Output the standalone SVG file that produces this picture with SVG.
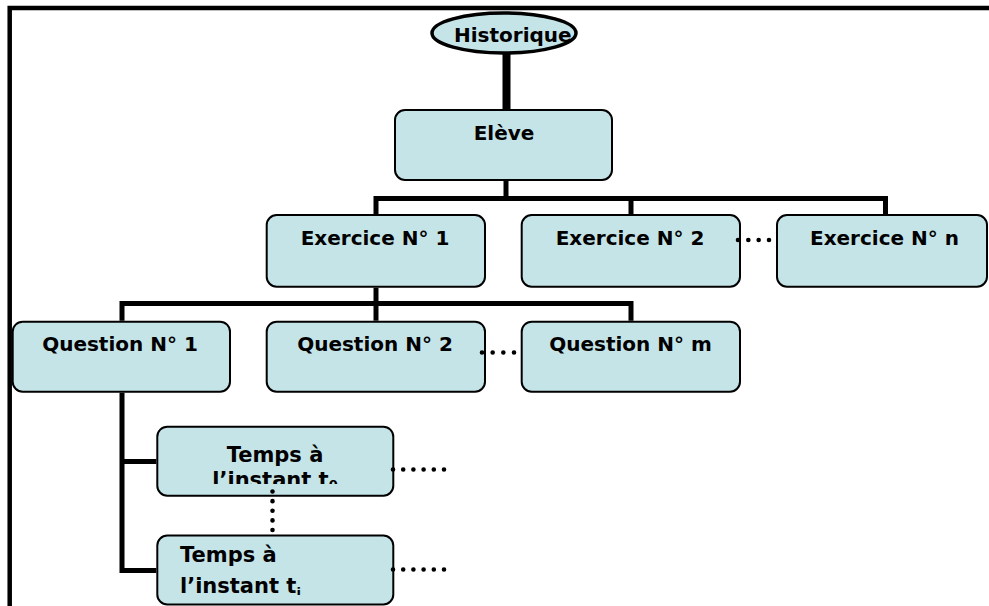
<svg xmlns="http://www.w3.org/2000/svg" width="989" height="606" viewBox="0 0 989 606">
<style>
.box{fill:#C5E4E8;stroke:#000;stroke-width:2}
.lbl{font-family:"DejaVu Sans",Verdana,sans-serif;font-weight:bold;font-size:20px;fill:#000}
.big{font-size:21px}
.con{fill:none;stroke:#000;stroke-width:5;stroke-linejoin:miter;stroke-linecap:butt}
.dot{fill:none;stroke:#000;stroke-width:4.6;stroke-linecap:round}
</style>
<defs>
<clipPath id="clipT0"><rect x="157" y="426" width="237" height="58"/></clipPath>
<clipPath id="clipTi"><rect x="157" y="535" width="237" height="60"/></clipPath>
</defs>
<rect width="989" height="606" fill="#fff"/>
<path d="M9.7,606 V8 H989" fill="none" stroke="#000" stroke-width="4.5"/>
<g id="historique">
<ellipse cx="504" cy="33" rx="72" ry="20" fill="#C5E4E8" stroke="#000" stroke-width="3.5"/>
<text class="lbl" x="454" y="41.5">Historique</text>
</g>
<g id="eleve">
<rect class="box" x="395" y="110" width="217" height="70" rx="10"/>
<text class="lbl" x="504" y="140" text-anchor="middle">Elève</text>
</g>
<g id="exercice1">
<rect class="box" x="266.7" y="215" width="218.3" height="71.7" rx="10"/>
<text class="lbl" x="375" y="245" text-anchor="middle">Exercice N° 1</text>
</g>
<g id="exercice2">
<rect class="box" x="521.7" y="215" width="218.3" height="71.7" rx="10"/>
<text class="lbl" x="630" y="245" text-anchor="middle">Exercice N° 2</text>
</g>
<g id="exercicen">
<rect class="box" x="777" y="215" width="210" height="71.7" rx="10"/>
<text class="lbl" x="884.5" y="245" text-anchor="middle">Exercice N° n</text>
</g>
<g id="question1">
<rect class="box" x="12.7" y="321.7" width="217.3" height="70" rx="10"/>
<text class="lbl" x="120" y="350.5" text-anchor="middle">Question N° 1</text>
</g>
<g id="question2">
<rect class="box" x="266.7" y="321.7" width="218.3" height="70" rx="10"/>
<text class="lbl" x="375" y="350.5" text-anchor="middle">Question N° 2</text>
</g>
<g id="questionm">
<rect class="box" x="521.7" y="321.7" width="218.3" height="70" rx="10"/>
<text class="lbl" x="630.5" y="351" text-anchor="middle">Question N° m</text>
</g>
<g id="temps0">
<rect class="box" x="157.3" y="426.7" width="236" height="69" rx="10"/>
<g clip-path="url(#clipT0)">
<text class="lbl big" x="275" y="461.5" text-anchor="middle">Temps à</text>
<text class="lbl big" x="275" y="486.5" text-anchor="middle">l’instant t<tspan font-size="13" dy="2">0</tspan></text>
</g>
</g>
<g id="tempsi">
<rect class="box" x="157.3" y="535.5" width="236" height="69" rx="10"/>
<g clip-path="url(#clipTi)">
<text class="lbl big" x="180" y="561.5">Temps à</text>
<text class="lbl big" x="180" y="593">l’instant t<tspan font-size="13" dy="4">i</tspan></text>
</g>
</g>
<g id="connectors">
<line x1="506.5" y1="53.5" x2="506.5" y2="109" stroke="#000" stroke-width="8"/>
<path class="con" d="M506,181 V198.5"/>
<path class="con" d="M376,214 V198.5 H885.5 V214"/>
<path class="con" d="M631,198.5 V214"/>
<path class="con" d="M376,287.7 V303.5"/>
<path class="con" d="M122,320.7 V303.5 H631 V320.7"/>
<path class="con" d="M376,303.5 V320.7"/>
<path class="con" d="M122,392.7 V570.5 H156.3"/>
<path class="con" d="M122,461.5 H156.3"/>
<path class="dot" d="M738,240 H769.5" stroke-dasharray="0 10.33"/>
<path class="dot" d="M482,352.5 H514.5" stroke-dasharray="0 10.67"/>
<path class="dot" d="M393,469.5 H444.5" stroke-dasharray="0 10.2"/>
<path class="dot" d="M393,569.5 H444.5" stroke-dasharray="0 10.2"/>
<path class="dot" d="M272.5,491.5 V530.5" stroke-dasharray="0 9.625"/>
</g>
</svg>
